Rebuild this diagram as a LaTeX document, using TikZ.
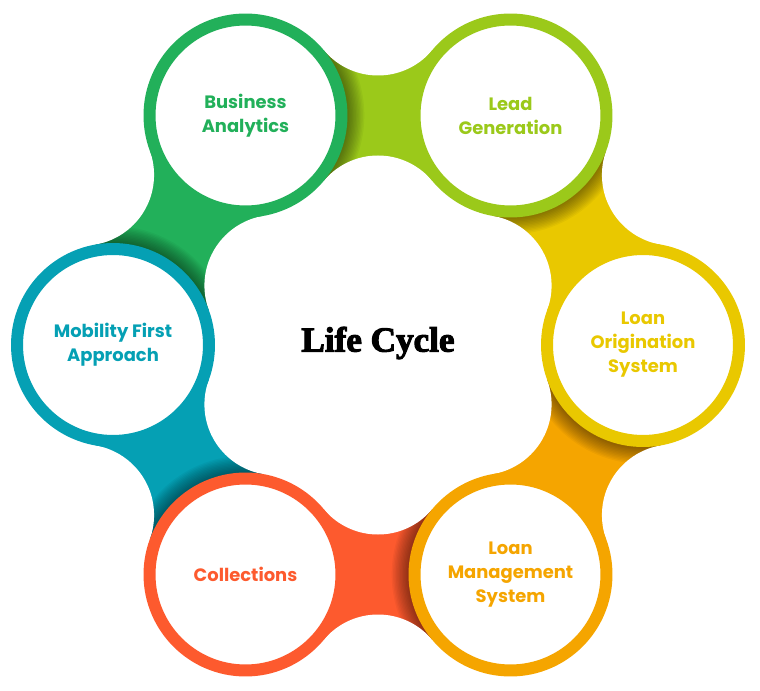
\documentclass[tikz,border=0pt]{standalone}
\usepackage{fontspec}
\setsansfont{Poppins}
\newfontfamily\titlefont{Liberation Serif}[FakeBold=3]
\usepackage{tikz}
\usetikzlibrary{calc}
\definecolor{bacol}{HTML}{22B05A}
\definecolor{lgcol}{HTML}{9BC91A}
\definecolor{loscol}{HTML}{E9C800}
\definecolor{lmscol}{HTML}{F5A500}
\definecolor{colcol}{HTML}{FD5A2E}
\definecolor{mobcol}{HTML}{05A0B4}

\begin{document}
\begin{tikzpicture}[x=0.02cm,y=0.02cm,
  every node/.style={font=\sffamily\bfseries\fontsize{10.2}{13.7}\selectfont},
  ring/.style={circle,draw=#1,fill=white,line width=0.24cm,minimum size=3.84cm,inner sep=0pt,align=center,text=#1}]
\useasboundingbox (-378,-345) rectangle (382,345);
% circle centres on a hexagon
\foreach \n/\ang in {c1/120,c2/60,c3/0,c4/-60,c5/-120,c6/180}
  \coordinate (\n) at (\ang:265);
% necks between neighbours, shaded next to the earlier circle
\foreach \ang/\a/\b/\col in {90/c1/c2/lgcol,30/c2/c3/loscol,-30/c3/c4/lmscol,-90/c4/c5/colcol,-150/c5/c6/mobcol,150/c6/c1/bacol}{
  \fill[\col] (\a) -- (\ang:340.1) -- (\b) -- (\ang:118.9) -- cycle;
  \begin{scope}
    \clip (\a) -- (\ang:340.1) -- (\b) -- (\ang:118.9) -- cycle;
    \foreach \k in {1,...,12}
      \fill[black,opacity=0.04] (\a) circle ({102+1.4*\k});
  \end{scope}
}
% white fillets cut the necks
\foreach \ang in {90,30,-30,-90,-150,150}{
  \fill[white] (\ang:340.1) circle (70.6);
  \fill[white] (\ang:118.9) circle (70.6);
}
% the six stages
\node[ring=bacol] (ba) at (c1) {Business\\Analytics};
\node[ring=lgcol] (lg) at (c2) {Lead\\Generation};
\node[ring=loscol] (los) at (c3) {Loan\\Origination\\System};
\node[ring=lmscol] (lms) at (c4) {Loan\\Management\\System};
\node[ring=colcol] (coll) at (c5) {Collections};
\node[ring=mobcol] (mob) at (c6) {Mobility First\\Approach};
% centre title
\node[font=\titlefont\bfseries\fontsize{20}{22}\selectfont] (title) at (0,2) {Life Cycle};
\end{tikzpicture}
\end{document}
